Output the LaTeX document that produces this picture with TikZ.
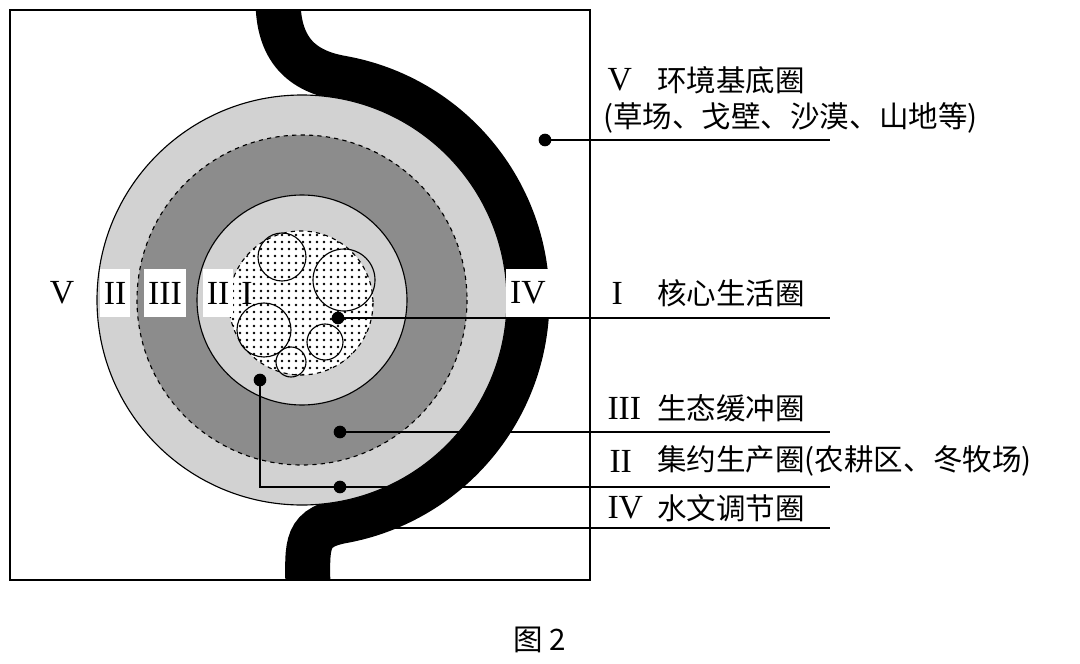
\documentclass[tikz,border=0pt]{standalone}
\usepackage{fontspec}
\setmainfont{Liberation Serif}
\newfontfamily\cjk{Noto Sans CJK SC}
\usetikzlibrary{positioning}
\definecolor{ringlight}{RGB}{210,210,210}
\definecolor{ringdark}{RGB}{140,140,140}

\begin{document}
\begin{tikzpicture}[x=0.025cm, y=-0.025cm,
  numlbl/.style={font=\fontsize{24}{24}\selectfont, inner sep=3pt},
  numbox/.style={numlbl, fill=white, minimum height=34},
  zhlbl/.style={font=\cjk\fontsize{21}{21}\selectfont, anchor=west, inner sep=0pt},
  pin/.style={circle, fill=black, inner sep=0pt, minimum size=9pt},
  lead/.style={line width=1.2pt}]
  \useasboundingbox (0,0) rectangle (1080,664);

  % frame and water band
  \begin{scope}
    \clip (10,10) rectangle (590,580);
    \draw[line width=1.125cm] (278,0) .. controls (278,50) and (302,71) .. (341,78)
      arc[start angle=-80, end angle=80, radius=225]
      .. controls (302,529) and (308,548) .. (308,600);
  \end{scope}
  \draw[line width=1.2pt] (10,10) rectangle (590,580);

  % rings
  \draw[thick, fill=ringlight] (302,300) circle[radius=205];
  \draw[thick, dashed, fill=ringdark] (302,300) circle[radius=165];
  \draw[thick, fill=ringlight] (302,300) circle[radius=105];

  % core with dots
  \fill[white] (301,303) circle[radius=72];
  \begin{scope}
    \clip (301,303) circle[radius=72];
    \foreach \i in {0,...,21} {
      \foreach \j in {0,...,21} {
        \fill (226+7*\i,228+7*\j) circle[radius=1.4];
      }
    }
  \end{scope}
  \draw[thick, dashed] (301,303) circle[radius=72];
  \foreach \cx/\cy/\r in {282/257/24, 344/280/31, 264/330/27, 325/342/18, 291/362/15}
    \draw[thick] (\cx,\cy) circle[radius=\r];

  % ring numerals
  \node[numlbl] (nV) at (62,293) {V};
  \node[numbox] (nIIa) at (115,293) {II};
  \node[numbox] (nIII) at (165,293) {III};
  \node[numbox] (nIIb) at (218,293) {II};
  \node[numlbl] (nI) at (247,293) {I};
  \node[numbox] (nIV) at (528,293) {IV};

  % pins
  \node[pin] (pV) at (545,140) {};
  \node[pin] (pI) at (338,318) {};
  \node[pin] (pIII) at (340,432) {};
  \node[pin] (pIIo) at (340,487) {};
  \node[pin] (pIIi) at (260,380) {};
  \node[pin] (pIV) at (340,528) {};
  \coordinate (eV) at (830,140);
  \coordinate (eI) at (830,318);
  \coordinate (eIII) at (830,432);
  \coordinate (eII) at (830,487);
  \coordinate (eIV) at (830,528);
  \coordinate (kII) at (260,487);

  \draw[lead] (pV.center) -- (eV);
  \draw[lead] (pI.center) -- (eI);
  \draw[lead] (pIII.center) -- (eIII);
  \draw[lead] (pIIi.center) -- (kII) -- (eII);
  \draw[lead] (pIV.center) -- (eIV);

  % legend
  \node[numlbl, anchor=west] (tV) at (603,80) {V};
  \node[zhlbl] (zV) at (657,80) {环境基底圈};
  \node[zhlbl] (zVb) at (603,118) {(草场、戈壁、沙漠、山地等)};
  \node[numlbl, anchor=west] (tI) at (607,293) {I};
  \node[zhlbl] (zI) at (657,293) {核心生活圈};
  \node[numlbl, anchor=west] (tIII) at (603,408) {III};
  \node[zhlbl] (zIII) at (657,408) {生态缓冲圈};
  \node[numlbl, anchor=west] (tII) at (605,461) {II};
  \node[zhlbl] (zII) at (657,461) {集约生产圈(农耕区、冬牧场)};
  \node[numlbl, anchor=west] (tIV) at (603,508) {IV};
  \node[zhlbl] (zIV) at (657,508) {水文调节圈};

  % caption
  \node[zhlbl, anchor=center] (cap) at (540,640) {图 2};
\end{tikzpicture}
\end{document}
